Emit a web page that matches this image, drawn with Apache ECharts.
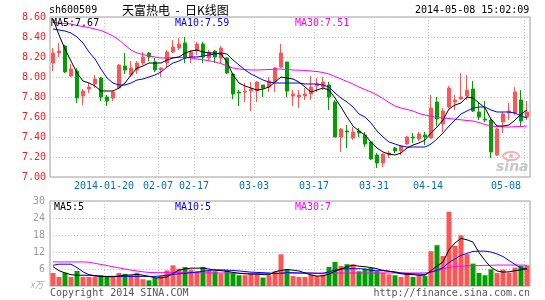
<!DOCTYPE html>
<html><head><meta charset="utf-8">
<script src="https://cdn.jsdelivr.net/npm/echarts@6/dist/echarts.min.js"></script>
<style>html,body{margin:0;padding:0;background:#fff}#c{width:545px;height:300px}</style>
</head><body><div id="c"></div>
<script>
const dates = ['01-07','01-08','01-09','01-10','01-13','01-14','01-15','01-16','01-17','01-20',
'01-21','01-22','01-23','01-24','01-27','01-28','01-29','01-30','02-07','02-10',
'02-11','02-12','02-13','02-14','02-17','02-18','02-19','02-20','02-21','02-24',
'02-25','02-26','02-27','02-28','03-03','03-04','03-05','03-06','03-07','03-10',
'03-11','03-12','03-13','03-14','03-17','03-18','03-19','03-20','03-21','03-24',
'03-25','03-26','03-27','03-28','03-31','04-01','04-02','04-03','04-04','04-08',
'04-09','04-10','04-11','04-14','04-15','04-16','04-17','04-18','04-21','04-22',
'04-23','04-24','04-25','04-28','04-29','04-30','05-05','05-06','05-07','05-08'];
const tickDates = ['01-20','02-07','02-17','03-03','03-17','03-31','04-14','05-08'];
const tickTexts = ['2014-01-20','02-07','02-17','03-03','03-17','03-31','04-14','05-08'];
const priceTicks = [7.0, 7.2, 7.4, 7.6, 7.8, 8.0, 8.2, 8.4, 8.6];
const volTicks = [0, 6, 12, 18, 24, 30];

const opens = [8.14,8.24,8.31,8.01,8.06,7.81,7.88,7.93,7.99,7.80,
7.79,7.89,8.11,8.02,8.07,8.14,8.24,8.15,8.07,8.14,
8.25,8.29,8.34,8.20,8.26,8.33,8.19,8.26,8.19,8.19,
8.03,7.85,7.85,7.86,7.86,7.92,7.90,7.95,8.10,8.15,
7.81,7.80,7.81,7.83,7.91,7.90,7.92,7.75,7.40,7.46,
7.39,7.46,7.42,7.35,7.22,7.14,7.22,7.29,7.26,7.33,
7.40,7.38,7.42,7.39,7.75,7.53,7.70,7.75,7.78,7.81,
7.88,7.65,7.58,7.57,7.22,7.55,7.64,7.64,7.77,7.60];
const closes = [8.24,8.26,8.05,8.08,7.79,7.86,7.90,7.98,7.80,7.76,
7.85,8.12,8.07,8.09,8.14,8.20,8.20,8.07,8.09,8.25,
8.30,8.33,8.19,8.25,8.33,8.20,8.25,8.20,8.29,8.04,
7.83,7.84,7.86,7.88,7.95,7.89,7.96,8.09,8.24,7.86,
7.83,7.82,7.83,7.90,7.93,7.95,7.80,7.40,7.48,7.45,
7.45,7.44,7.33,7.18,7.14,7.23,7.24,7.26,7.31,7.40,
7.39,7.43,7.40,7.69,7.58,7.66,7.89,7.77,7.80,7.87,
7.66,7.60,7.57,7.25,7.48,7.63,7.66,7.85,7.56,7.65];
const lows = [8.06,8.20,8.04,8.00,7.74,7.72,7.84,7.89,7.76,7.71,
7.76,7.88,8.03,8.00,8.03,8.12,8.16,8.05,8.00,8.10,
8.24,8.27,8.14,8.14,8.22,8.14,8.17,8.14,8.14,8.03,
7.78,7.71,7.75,7.66,7.75,7.80,7.85,7.85,8.09,7.80,
7.71,7.69,7.77,7.77,7.85,7.87,7.67,7.40,7.25,7.29,
7.37,7.40,7.30,7.17,7.09,7.10,7.19,7.24,7.22,7.32,
7.34,7.36,7.32,7.38,7.51,7.45,7.69,7.67,7.77,7.77,
7.65,7.57,7.55,7.19,7.21,7.44,7.57,7.62,7.51,7.57];
const highs = [8.29,8.34,8.32,8.13,8.09,7.88,7.94,8.02,8.00,7.82,
7.86,8.13,8.24,8.16,8.16,8.25,8.25,8.19,8.10,8.27,
8.37,8.39,8.40,8.27,8.35,8.35,8.27,8.27,8.31,8.20,
8.04,7.87,7.94,7.95,7.96,7.92,8.00,8.10,8.33,8.15,
7.87,7.87,7.89,8.01,7.99,8.00,7.95,7.77,7.49,7.52,
7.50,7.49,7.45,7.36,7.24,7.24,7.26,7.30,7.32,7.41,
7.44,7.45,7.45,7.82,7.80,7.69,7.91,7.82,8.04,8.02,
7.96,7.75,7.76,7.58,7.49,7.65,7.74,7.90,7.87,7.76];
const ma5 = [8.58,8.42,8.28,8.16,8.04,7.96,7.94,7.91,7.86,7.86,
7.86,7.89,7.94,8.02,8.09,8.11,8.14,8.14,8.14,8.17,
8.19,8.20,8.24,8.26,8.27,8.25,8.24,8.24,8.23,8.15,
8.02,7.94,7.91,7.89,7.87,7.88,7.90,7.95,8.00,7.99,
7.98,7.95,7.90,7.85,7.87,7.89,7.87,7.79,7.70,7.60,
7.51,7.46,7.42,7.35,7.29,7.25,7.23,7.22,7.24,7.29,
7.32,7.34,7.37,7.44,7.50,7.57,7.68,7.72,7.74,7.80,
7.79,7.74,7.69,7.58,7.51,7.51,7.52,7.57,7.63,7.67];
const ma10 = [8.48,8.47,8.46,8.44,8.40,8.34,8.25,8.18,8.08,7.99,
7.94,7.92,7.92,7.94,7.97,7.98,8.00,8.02,8.05,8.10,
8.14,8.16,8.19,8.20,8.20,8.21,8.22,8.23,8.24,8.23,
8.17,8.12,8.07,8.03,8.00,7.97,7.95,7.94,7.94,7.94,
7.94,7.94,7.93,7.93,7.93,7.92,7.90,7.84,7.79,7.75,
7.70,7.63,7.60,7.54,7.46,7.40,7.35,7.33,7.31,7.30,
7.30,7.30,7.30,7.33,7.38,7.44,7.51,7.57,7.63,7.66,
7.69,7.70,7.70,7.67,7.65,7.65,7.65,7.64,7.61,7.59];
const ma30 = [8.545,8.54,8.535,8.53,8.515,8.505,8.495,8.48,8.465,8.44,
8.41,8.37,8.32,8.27,8.24,8.225,8.21,8.20,8.19,8.19,
8.195,8.197,8.197,8.19,8.18,8.172,8.163,8.15,8.135,8.11,
8.09,8.08,8.075,8.07,8.07,8.072,8.075,8.08,8.08,8.075,
8.07,8.068,8.065,8.06,8.055,8.045,8.03,8.005,7.98,7.955,
7.93,7.90,7.875,7.85,7.82,7.785,7.745,7.71,7.69,7.675,
7.66,7.635,7.62,7.61,7.595,7.59,7.585,7.578,7.572,7.565,
7.56,7.545,7.525,7.51,7.503,7.50,7.50,7.503,7.505,7.51];
const volumes = [4.6,3.2,4.7,3.2,5.3,3.2,3.2,3.4,3.8,3.2,
3.5,4.6,4.3,3.8,4.7,2.4,2.0,2.8,3.5,5.5,
7.3,6.1,6.7,5.8,5.2,6.7,5.5,5.2,4.4,5.5,
4.7,3.8,3.8,4.6,4.6,3.0,3.8,5.2,11.2,5.9,
3.5,3.2,3.2,4.0,3.5,4.0,6.7,8.5,7.1,7.7,
7.7,5.2,6.1,6.4,5.2,4.7,4.1,3.8,3.2,4.6,
3.2,3.8,3.5,12.3,14.4,10.6,26.2,14.2,17.9,11.2,
7.9,4.6,3.8,5.9,4.6,5.8,4.7,6.5,7.1,7.3];
const vma5 = [6.8,5.4,4.6,4.0,3.8,3.8,3.8,3.7,3.4,3.3,
3.3,3.5,3.8,3.9,4.1,3.8,3.4,2.9,2.9,3.2,
4.5,5.6,6.0,6.3,6.3,6.3,6.0,5.6,5.4,5.2,
4.8,4.5,4.3,4.2,4.2,4.0,4.0,5.0,5.5,5.8,
5.6,5.3,4.6,3.9,3.5,3.6,4.2,5.2,6.0,6.8,
7.3,7.0,6.8,6.5,6.1,5.5,5.2,4.8,4.3,4.1,
4.0,3.8,3.8,5.4,7.0,8.5,12.8,15.2,16.8,16.3,
15.5,11.8,9.0,6.6,5.3,4.9,5.0,5.4,5.7,6.2];
const vma10 = [7.3,7.7,7.7,7.7,6.5,5.0,4.0,3.6,3.4,3.4,
3.4,3.4,3.4,3.4,3.4,3.4,3.4,3.4,3.6,3.8,
4.1,4.3,4.5,4.7,4.9,5.2,5.5,5.7,5.7,5.6,
5.5,5.3,5.1,4.9,4.8,4.7,4.6,4.4,4.5,4.7,
4.7,4.6,4.6,4.6,4.5,4.5,5.0,5.6,6.0,6.1,
6.1,6.1,6.0,5.5,5.4,5.4,5.2,5.0,4.6,4.4,
4.3,4.2,4.1,5.0,5.5,6.5,8.3,9.6,10.8,11.5,
12.2,12.3,12.3,12.0,11.3,10.4,9.0,7.6,6.3,5.9];
const vma30 = [8.5,8.5,8.5,8.5,8.5,8.5,8.4,8.0,7.6,7.2,
6.8,6.4,6.0,5.6,5.3,5.0,4.8,4.7,4.7,4.7,
4.7,4.7,4.7,4.7,4.7,4.6,4.6,4.6,4.6,4.6,
4.5,4.5,4.5,4.5,4.5,4.4,4.4,4.4,4.5,4.5,
4.5,4.5,4.5,4.5,4.5,4.5,4.5,4.6,4.6,4.6,
4.6,4.6,4.6,4.6,4.6,4.6,4.6,4.6,4.6,4.6,
4.6,4.6,4.6,4.8,5.4,6.0,6.6,6.9,7.0,7.1,
7.2,7.2,7.3,7.3,7.4,7.4,7.4,7.4,7.4,7.3];

const RED = '#ff5555', GREEN = '#00a000';
const MONO = '"DejaVu Sans Mono", "Liberation Mono", monospace';
const GRIDC = '#c4c4c4', BORDER = '#a0a0a0';

const candleData = opens.map((o, i) => [o, closes[i], lows[i], highs[i]]);
const volData = volumes.map((v, i) => ({
  value: v,
  itemStyle: { color: closes[i] >= opens[i] ? RED : GREEN }
}));
const tickSet = new Set(tickDates);
const tickLabel = Object.fromEntries(tickDates.map((d, i) => [d, tickTexts[i]]));

const chart = echarts.init(document.getElementById('c'), null, { renderer: 'canvas' });
const xBase = {
  type: 'category', data: dates, boundaryGap: true,
  axisLine: { show: false }, axisTick: { show: false },
  splitLine: { show: true, interval: (i, v) => tickSet.has(v), lineStyle: { color: GRIDC, type: [1, 2] } }
};
chart.setOption({
  animation: false,
  backgroundColor: '#fff',
  grid: [
    { left: 50, width: 480, top: 17, height: 160, show: true, borderColor: BORDER, borderWidth: 1, backgroundColor: 'transparent' },
    { left: 50, width: 480, top: 201, height: 85, show: true, borderColor: BORDER, borderWidth: 1, backgroundColor: 'transparent' }
  ],
  xAxis: [
    Object.assign({}, xBase, { gridIndex: 0,
      axisLabel: { show: true, interval: (i, v) => tickSet.has(v), formatter: v => tickLabel[v] || '',
        color: '#0a6fc4', fontFamily: MONO, fontSize: 10, margin: 4, padding: [0, 6, 0, 0],
        alignMaxLabel: 'right' } }),
    Object.assign({}, xBase, { gridIndex: 1, axisLabel: { show: false } })
  ],
  yAxis: [
    { gridIndex: 0, type: 'value', min: priceTicks[0], max: priceTicks[priceTicks.length - 1], interval: 0.2,
      axisLine: { show: false }, axisTick: { show: false },
      splitLine: { show: true, lineStyle: { color: GRIDC, type: [1, 2] } },
      axisLabel: { color: '#ff1a1a', fontFamily: MONO, fontSize: 10, margin: 4, formatter: v => v.toFixed(2) } },
    { gridIndex: 1, type: 'value', min: volTicks[0], max: volTicks[volTicks.length - 1], interval: 6,
      axisLine: { show: false }, axisTick: { show: false },
      splitLine: { show: true, lineStyle: { color: GRIDC, type: [1, 2] } },
      axisLabel: { color: '#999', fontFamily: MONO, fontSize: 10, margin: 5, formatter: v => v === 0 ? '' : String(v) } }
  ],
  series: [
    { type: 'candlestick', xAxisIndex: 0, yAxisIndex: 0, data: candleData, barWidth: 4,
      itemStyle: { color: RED, color0: GREEN, borderColor: RED, borderColor0: GREEN, borderWidth: 1 } },
    { type: 'line', xAxisIndex: 0, yAxisIndex: 0, data: ma30, symbol: 'none', lineStyle: { color: '#ff00ff', width: 1 } },
    { type: 'line', xAxisIndex: 0, yAxisIndex: 0, data: ma10, symbol: 'none', lineStyle: { color: '#0000ff', width: 1 } },
    { type: 'line', xAxisIndex: 0, yAxisIndex: 0, data: ma5, symbol: 'none', lineStyle: { color: '#000', width: 1 } },
    { type: 'bar', xAxisIndex: 1, yAxisIndex: 1, data: volData, barWidth: 5 },
    { type: 'line', xAxisIndex: 1, yAxisIndex: 1, data: vma30, symbol: 'none', lineStyle: { color: '#ff00ff', width: 1 } },
    { type: 'line', xAxisIndex: 1, yAxisIndex: 1, data: vma10, symbol: 'none', lineStyle: { color: '#0000ff', width: 1 } },
    { type: 'line', xAxisIndex: 1, yAxisIndex: 1, data: vma5, symbol: 'none', lineStyle: { color: '#000', width: 1 } }
  ],
  graphic: [
    { type: 'text', left: 49, top: 5, style: { text: 'sh600509', fill: '#000', font: '10px ' + MONO } },
    { type: 'text', left: 122, top: 4, style: { text: '天富热电  -  日K线图', fill: '#000', font: '12px "Noto Sans CJK SC", sans-serif' } },
    { type: 'text', left: 415, top: 5, style: { text: '2014-05-08 15:02:09', fill: '#000', font: '10px ' + MONO } },
    { type: 'text', left: 51, top: 18, z: 100, style: { text: 'MA5:7.67', fill: '#000', font: '10px ' + MONO } },
    { type: 'text', left: 175, top: 18, z: 100, style: { text: 'MA10:7.59', fill: '#0000ff', font: '10px ' + MONO } },
    { type: 'text', left: 295, top: 18, z: 100, style: { text: 'MA30:7.51', fill: '#ff00ff', font: '10px ' + MONO } },
    { type: 'text', left: 54, top: 202, z: 100, style: { text: 'MA5:5', fill: '#000', font: '10px ' + MONO } },
    { type: 'text', left: 175, top: 202, z: 100, style: { text: 'MA10:5', fill: '#0000ff', font: '10px ' + MONO } },
    { type: 'text', left: 295, top: 202, z: 100, style: { text: 'MA30:7', fill: '#ff00ff', font: '10px ' + MONO } },
    { type: 'text', left: 30, top: 280, style: { text: 'x万', fill: '#aaa', font: 'italic 9px "Noto Sans CJK SC", sans-serif' } },
    { type: 'text', left: 50, top: 288, style: { text: 'Copyright 2014 SINA.COM', fill: '#555', font: '10px ' + MONO } },
    { type: 'text', right: 15, top: 288, style: { text: 'http://finance.sina.com.cn', fill: '#555', font: '10px ' + MONO } },
    { type: 'ellipse', shape: { cx: 511, cy: 156, rx: 8, ry: 4 }, style: { fill: 'none', stroke: '#f2b0b0', lineWidth: 2 }, z: 1 },
    { type: 'circle', shape: { cx: 511, cy: 156, r: 2 }, style: { fill: '#f2b0b0' }, z: 1 },
    { type: 'text', left: 496, top: 160, z: 1, style: { text: 'sina', fill: '#c8c8c8', font: 'italic bold 14px "DejaVu Sans", sans-serif' } }
  ]
});
</script></body></html>
